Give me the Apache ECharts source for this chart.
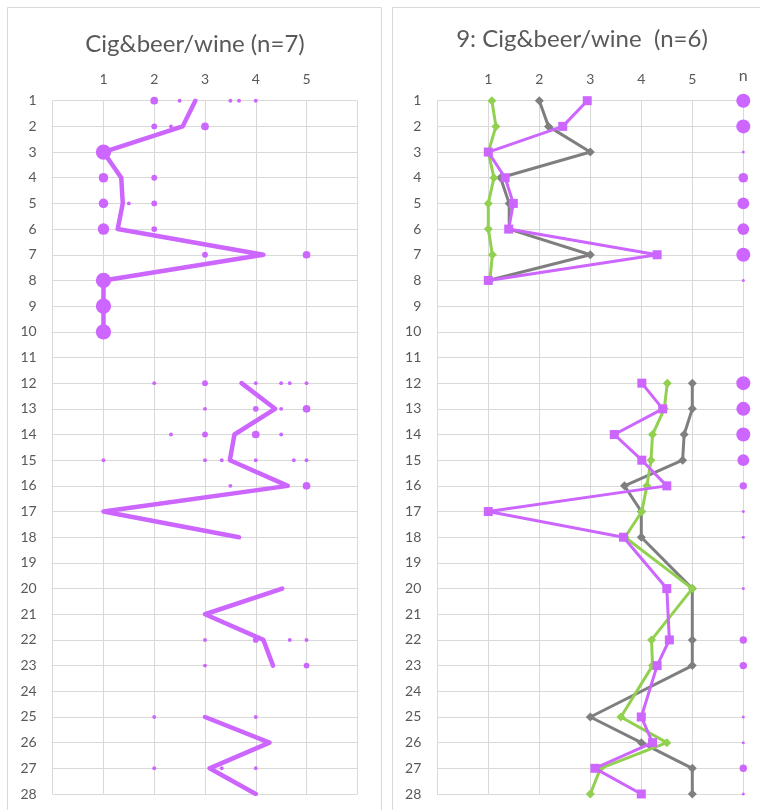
<!DOCTYPE html>
<html>
<head>
<meta charset="utf-8">
<script src="https://cdn.jsdelivr.net/npm/echarts@6/dist/echarts.min.js"></script>
<style>
  html, body { margin: 0; padding: 0; background: #ffffff; }
  #chart { width: 760px; height: 810px; }
</style>
</head>
<body>
<div id="chart"></div>
<script>
// ---- data -------------------------------------------------------------
// Item numbers down the vertical axis
const rows = [1, 2, 3, 4, 5, 6, 7, 8, 9, 10, 11, 12, 13, 14, 15, 16, 17, 18, 19, 20,
              21, 22, 23, 24, 25, 26, 27, 28];

// Left panel: group mean per item (null = no answer, line breaks there)
const meanAll = [2.81, 2.56, 1.0, 1.35, 1.38, 1.28, 4.15, 1.0, 1.0, 1.0, null,
                 3.72, 4.38, 3.58, 3.49, 4.63, 1.0, 3.67, null,
                 4.52, 3.0, 4.15, 4.34, null, 3.0, 4.27, 3.09, 4.0];

// Left panel: individual answers as [score, item, number of respondents]
const responses = [
  [2, 1, 3], [2.5, 1, 1], [3.5, 1, 1], [3.67, 1, 1], [4, 1, 1],
  [2, 2, 2], [2.33, 2, 1], [3, 2, 3],
  [1, 3, 7],
  [1, 4, 4], [2, 4, 2],
  [1, 5, 4], [1.5, 5, 1], [2, 5, 2],
  [1, 6, 5], [2, 6, 2],
  [3, 7, 2], [5, 7, 3],
  [1, 8, 7], [1, 9, 7], [1, 10, 7],
  [2, 12, 1], [3, 12, 2], [4, 12, 1], [4.5, 12, 1], [4.67, 12, 1], [5, 12, 1],
  [3, 13, 1], [4, 13, 2], [4.5, 13, 1], [5, 13, 3],
  [2.33, 14, 1], [3, 14, 2], [4, 14, 3], [4.5, 14, 1],
  [1, 15, 1], [3, 15, 1], [3.33, 15, 1], [4, 15, 1], [4.75, 15, 1], [5, 15, 1],
  [3.5, 16, 1], [5, 16, 3],
  [3, 22, 1], [4, 22, 2], [4.67, 22, 1], [5, 22, 1],
  [3, 23, 1], [5, 23, 2],
  [2, 25, 1], [4, 25, 1],
  [2, 27, 1], [3.33, 27, 1], [4, 27, 1]
];

// Right panel: three profiles per item (null = not asked)
const grayProfile   = [2.0, 2.18, 3.0, 1.24, 1.41, 1.41, 3.0, 1.0, null, null, null,
                       5.0, 5.0, 4.84, 4.81, 3.67, 4.0, 4.0, null,
                       5.0, null, 5.0, 5.0, null, 3.0, 4.0, 5.0, 5.0];
const greenProfile  = [1.07, 1.15, 1.0, 1.11, 1.0, 1.0, 1.08, 1.03, null, null, null,
                       4.51, 4.45, 4.22, 4.19, 4.11, 4.01, 3.68, null,
                       5.0, null, 4.2, 4.22, null, 3.6, 4.5, 3.2, 3.0];
const purpleProfile = [2.94, 2.46, 1.0, 1.33, 1.49, 1.40, 4.31, 1.0, null, null, null,
                       4.01, 4.42, 3.47, 4.01, 4.5, 1.0, 3.65, null,
                       4.5, null, 4.55, 4.31, null, 4.0, 4.22, 3.09, 4.0];
// Right panel: number of answers per item
const nAnswers      = [6, 6, 1, 4, 5, 5, 6, 1, null, null, null,
                       6, 6, 6, 5, 3, 1, 1, null,
                       1, null, 3, 3, null, 1, 1, 3, 1];
// Item ranges drawn as one connected line in the right panel
const rightBlocks = [[1, 8], [12, 28]];

const scoreTicks = [1, 2, 3, 4, 5];
const nColumnLabel = 'n';
const leftTitle = 'Cig&beer/wine (n=7)';
const rightTitle = '9: Cig&beer/wine  (n=6)';

// ---- styling ----------------------------------------------------------
const FONT = 'Lato, "Open Sans", sans-serif';
const GRID = '#D9D9D9';
const TEXT = '#595959';
const PURPLE = '#CC66FF';
const GRAY = '#7F7F7F';
const GREEN = '#92D050';

const chart = echarts.init(document.getElementById('chart'), null, { renderer: 'canvas' });

function scoreAxis(gridIndex, lastLabel) {
  return {
    type: 'value', gridIndex: gridIndex, position: 'top',
    min: 0, max: 6, interval: 1,
    axisLine: { show: false }, axisTick: { show: false },
    splitLine: { show: true, lineStyle: { color: GRID, width: 1 } },
    axisLabel: {
      margin: 14, color: TEXT, fontFamily: FONT, fontSize: 14,
      formatter: function (v) {
        if (scoreTicks.indexOf(v) >= 0) return String(v);
        if (v === 6 && lastLabel) return '{n|' + lastLabel + '}';
        return '';
      },
      rich: { n: { fontSize: 16, color: TEXT, fontFamily: FONT, padding: [0, 0, 3, 0] } }
    }
  };
}

function itemAxis(gridIndex) {
  return {
    type: 'value', gridIndex: gridIndex, inverse: true,
    min: rows[0], max: rows[rows.length - 1], interval: 1,
    axisLine: { show: false }, axisTick: { show: false },
    splitLine: { show: true, lineStyle: { color: GRID, width: 1 } },
    axisLabel: { margin: 16, color: TEXT, fontFamily: FONT, fontSize: 14 }
  };
}

function meanLineData(values) {
  return rows.map(function (r, i) { return values[i] == null ? ['-', r] : [values[i], r]; });
}

function blockData(values) {
  const out = [];
  rightBlocks.forEach(function (b, bi) {
    if (bi > 0) out.push(['-', '-']);
    rows.forEach(function (r, i) {
      if (r >= b[0] && r <= b[1] && values[i] != null) out.push([values[i], r]);
    });
  });
  return out;
}

function profileSeries(values, color, symbol, size, z) {
  return {
    type: 'line', xAxisIndex: 1, yAxisIndex: 1, z: z,
    data: blockData(values), connectNulls: false,
    symbol: symbol, symbolSize: size, showSymbol: true,
    itemStyle: { color: color, borderWidth: 0 },
    lineStyle: { color: color, width: 3, join: 'round' },
    emphasis: { disabled: true }, silent: true
  };
}

const nData = rows.map(function (r, i) { return nAnswers[i] == null ? null : [6, r, nAnswers[i]]; })
                  .filter(function (d) { return d !== null; });

const option = {
  animation: false,
  backgroundColor: '#ffffff',
  grid: [
    { left: 52.7, top: 100.7, width: 304.6, height: 693.3 },
    { left: 437.3, top: 100.7, width: 306, height: 693.3 }
  ],
  xAxis: [scoreAxis(0, null), scoreAxis(1, nColumnLabel)],
  yAxis: [itemAxis(0), itemAxis(1)],
  graphic: [
    { type: 'rect', z: -10, silent: true,
      shape: { x: 7.5, y: 7.5, width: 374, height: 820 },
      style: { fill: 'none', stroke: GRID, lineWidth: 1 } },
    { type: 'rect', z: -10, silent: true,
      shape: { x: 392.5, y: 7.5, width: 380, height: 820 },
      style: { fill: 'none', stroke: GRID, lineWidth: 1 } },
    { type: 'text', silent: true, x: 195, y: 44,
      style: { text: leftTitle, fill: TEXT, font: '24px ' + FONT,
               align: 'center', verticalAlign: 'middle',
               textAlign: 'center', textVerticalAlign: 'middle' } },
    { type: 'text', silent: true, x: 582, y: 39,
      style: { text: rightTitle, fill: TEXT, font: '24px ' + FONT,
               align: 'center', verticalAlign: 'middle',
               textAlign: 'center', textVerticalAlign: 'middle' } }
  ],
  series: [
    {
      type: 'scatter', xAxisIndex: 0, yAxisIndex: 0, z: 2,
      data: responses,
      symbol: 'circle',
      symbolSize: function (d) { return 2 + 1.9 * d[2]; },
      itemStyle: { color: PURPLE, opacity: 1 },
      emphasis: { disabled: true }, silent: true
    },
    {
      type: 'line', xAxisIndex: 0, yAxisIndex: 0, z: 3,
      data: meanLineData(meanAll), connectNulls: false,
      symbol: 'none',
      lineStyle: { color: PURPLE, width: 4.5, join: 'round', cap: 'round' },
      emphasis: { disabled: true }, silent: true
    },
    profileSeries(grayProfile, GRAY, 'diamond', 9, 3),
    profileSeries(greenProfile, GREEN, 'diamond', 9, 4),
    profileSeries(purpleProfile, PURPLE, 'rect', 9, 5),
    {
      type: 'scatter', xAxisIndex: 1, yAxisIndex: 1, z: 2,
      data: nData,
      symbol: 'circle',
      symbolSize: function (d) { return 0.8 + 2.2 * d[2]; },
      itemStyle: { color: PURPLE, opacity: 1 },
      emphasis: { disabled: true }, silent: true
    }
  ]
};

chart.setOption(option);
</script>
</body>
</html>
